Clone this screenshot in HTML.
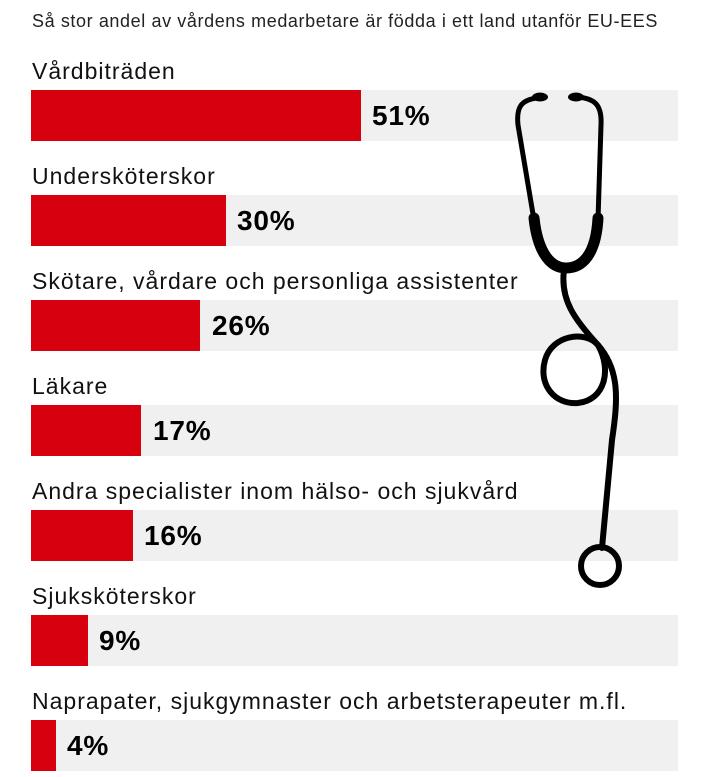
<!DOCTYPE html>
<html><head><meta charset="utf-8"><style>
body{margin:0;width:727px;height:777px;background:#fff;font-family:"Liberation Sans",sans-serif;color:#111;position:relative;overflow:hidden}
.t{position:absolute;left:32px;top:11px;font-size:18px;letter-spacing:0.6px;color:#222}
.l{position:absolute;left:32px;font-size:23px;letter-spacing:1px;color:#111}
.bg{position:absolute;left:31px;width:647px;height:51px;background:#f0f0f0}
.r{position:absolute;left:0;top:0;height:51px;background:#d7000f}
.v{position:absolute;top:10px;font-size:28px;font-weight:bold;letter-spacing:0.8px;color:#000}
svg{position:absolute;left:0;top:0}
</style></head><body>
<div class="t">Så stor andel av vårdens medarbetare är födda i ett land utanför EU-EES</div>

<div class="l" style="top:58px">Vårdbiträden</div>
<div class="bg" style="top:90px"><div class="r" style="width:330px"></div><div class="v" style="left:341px">51%</div></div>

<div class="l" style="top:163px">Undersköterskor</div>
<div class="bg" style="top:195px"><div class="r" style="width:195px"></div><div class="v" style="left:206px">30%</div></div>

<div class="l" style="top:268px">Skötare, vårdare och personliga assistenter</div>
<div class="bg" style="top:300px"><div class="r" style="width:169px"></div><div class="v" style="left:181px">26%</div></div>

<div class="l" style="top:373px">Läkare</div>
<div class="bg" style="top:405px"><div class="r" style="width:110px"></div><div class="v" style="left:122px">17%</div></div>

<div class="l" style="top:478px">Andra specialister inom hälso- och sjukvård</div>
<div class="bg" style="top:510px"><div class="r" style="width:102px"></div><div class="v" style="left:113px">16%</div></div>

<div class="l" style="top:583px">Sjuksköterskor</div>
<div class="bg" style="top:615px"><div class="r" style="width:57px"></div><div class="v" style="left:68px">9%</div></div>

<div class="l" style="top:688px">Naprapater, sjukgymnaster och arbetsterapeuter m.fl.</div>
<div class="bg" style="top:720px"><div class="r" style="width:25px"></div><div class="v" style="left:36px">4%</div></div>

<svg width="727" height="777" viewBox="0 0 727 777">
<g fill="none" stroke="#000" stroke-linecap="round">
<path d="M537 98 C522 100 516 106 518 125 L534 220" stroke-width="5"/>
<path d="M576 97 C596 98 602 106 601 125 L598 220" stroke-width="5"/>
<path d="M534 218 C538 255 552 268 566 268 C582 268 596 255 598 218" stroke-width="11"/>
<path d="M564 270 C560 300 575 320 598 345 C620 370 618 400 612 440 L602 548" stroke-width="6"/>
<path d="M598 345 C585 330 552 335 545 360 C538 385 555 405 578 403 C605 400 612 370 598 345" stroke-width="6"/>
<circle cx="600" cy="566" r="19" stroke-width="6"/>
</g>
<ellipse cx="540" cy="97" rx="8" ry="4.5" fill="#000"/>
<ellipse cx="576" cy="97" rx="8" ry="4.5" fill="#000"/>
</svg>
</body></html>
